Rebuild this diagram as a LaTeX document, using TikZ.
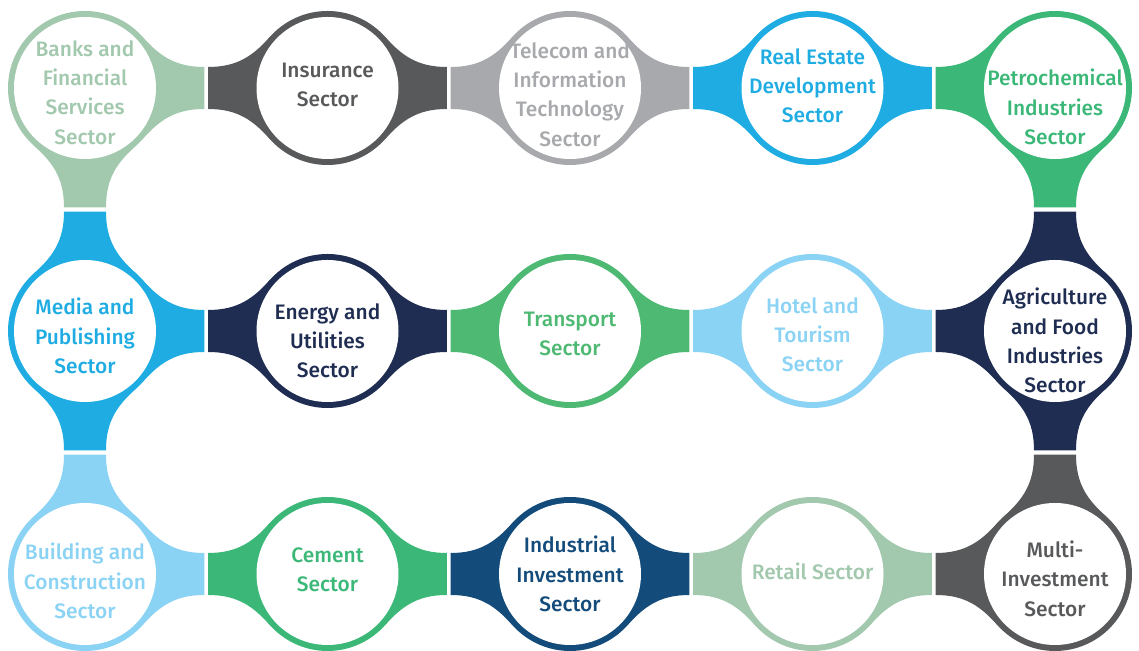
\documentclass[tikz,border=0pt]{standalone}
\usepackage{fontspec}
\setmainfont{Fira Sans Medium}
\definecolor{sage}{HTML}{A2C8AE}
\definecolor{dgray}{HTML}{58595B}
\definecolor{lgray}{HTML}{A7A9AC}
\definecolor{sky}{HTML}{1EACE3}
\definecolor{greenA}{HTML}{3BB878}
\definecolor{navy}{HTML}{1E2D51}
\definecolor{greenB}{HTML}{4DB972}
\definecolor{lblue}{HTML}{8BD3F4}
\definecolor{dblue}{HTML}{134B7A}
\tikzset{
  lbl/.style={align=center, font=\fontsize{21}{29.3}\selectfont, inner sep=0pt},
}
% #1 name, #2 x, #3 y, #4 colour, #5 neck angles, #6 text offset, #7 text
\newcommand{\sectorring}[7]{%
  \begin{scope}[shift={(#2,#3)}]
    \foreach \a in {#5}{%
      \fill[#4, rotate=\a] (57.2,51.5) .. controls (73.9,32.9) and (89.3,21) .. (119.3,21)
        -- (119.3,-21) .. controls (89.3,-21) and (73.9,-32.9) .. (57.2,-51.5) -- (0,0) -- cycle;
    }
    \fill[#4] (0,0) circle (77);
    \fill[white] (0,0) circle (71);
    \node[lbl, text=#4] (#1) at (0,#6) {#7};
  \end{scope}}
\begin{document}
\begin{tikzpicture}[x=1bp,y=1bp]
\useasboundingbox (0,0) rectangle (1139,651);
% row 1 (y=563)
\sectorring{banks}{85}{563}{sage}{0,270}{-4.5}{Banks and\\Financial\\Services\\Sector}
\sectorring{insurance}{327.5}{563}{dgray}{0,180}{3}{Insurance\\Sector}
\sectorring{telecom}{570}{563}{lgray}{0,180}{-6.5}{Telecom and\\Information\\Technology\\Sector}
\sectorring{realestate}{812.5}{563}{sky}{0,180}{2}{Real Estate\\Development\\Sector}
\sectorring{petro}{1055}{563}{greenA}{180,270}{-19}{Petrochemical\\Industries\\Sector}
% row 2 (y=320)
\sectorring{media}{85}{320}{sky}{0,90,270}{-5}{Media and\\Publishing\\Sector}
\sectorring{energy}{327.5}{320}{navy}{0,180}{-10}{Energy and\\Utilities\\Sector}
\sectorring{transport}{570}{320}{greenB}{0,180}{-3}{Transport\\Sector}
\sectorring{hotel}{812.5}{320}{lblue}{0,180}{-4}{Hotel and\\Tourism\\Sector}
\sectorring{agri}{1055}{320}{navy}{90,180,270}{-9.5}{Agriculture\\and Food\\Industries\\Sector}
% row 3 (y=77)
\sectorring{building}{85}{77}{lblue}{0,90}{-7}{Building and\\Construction\\Sector}
\sectorring{cement}{327.5}{77}{greenA}{0,180}{4.5}{Cement\\Sector}
\sectorring{industrial}{570}{77}{dblue}{0,180}{0}{Industrial\\Investment\\Sector}
\sectorring{retail}{812.5}{77}{sage}{0,180}{3}{Retail Sector}
\sectorring{multi}{1055}{77}{dgray}{90,180}{-4.7}{Multi-\\Investment\\Sector}
\end{tikzpicture}
\end{document}
